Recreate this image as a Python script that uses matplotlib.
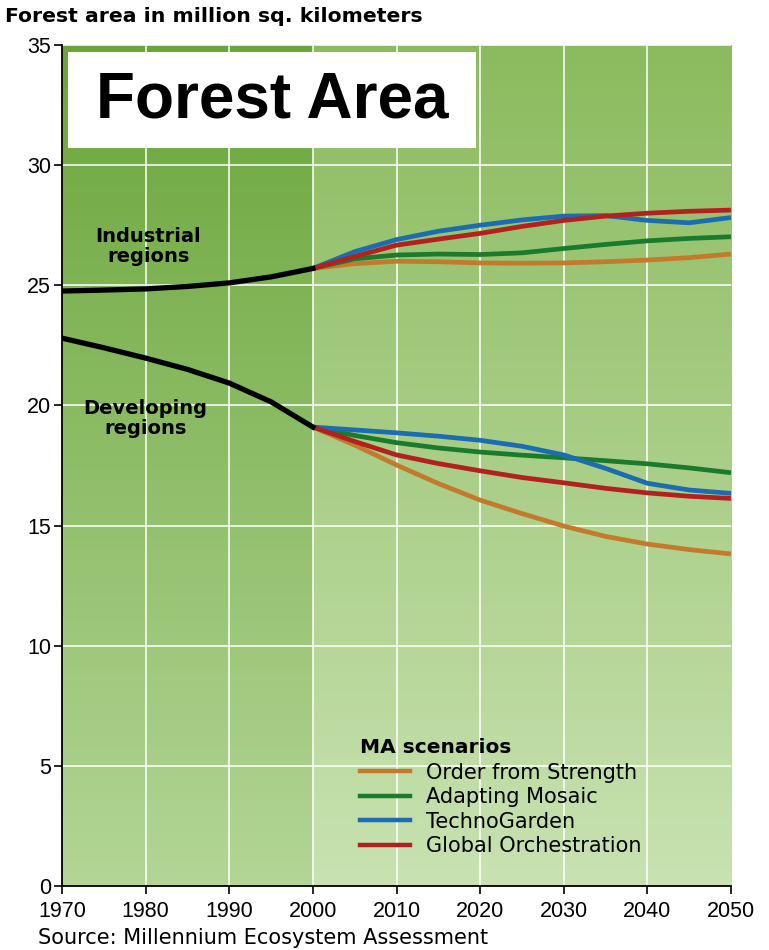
import numpy as np
import matplotlib
matplotlib.use("Agg")
import matplotlib.pyplot as plt
from matplotlib.colors import to_rgb
from matplotlib.lines import Line2D

plt.rcParams['font.family'] = ['Liberation Sans', 'DejaVu Sans']

hist_years = [1970, 1975, 1980, 1985, 1990, 1995, 2000]
industrial_hist = [24.76, 24.80, 24.85, 24.95, 25.10, 25.35, 25.70]
developing_hist = [22.80, 22.40, 21.97, 21.50, 20.93, 20.15, 19.10]

scen_years = [2000, 2005, 2010, 2015, 2020, 2025, 2030, 2035, 2040, 2045, 2050]
scenarios = ["Order from Strength", "Adapting Mosaic", "TechnoGarden", "Global Orchestration"]
colors = ["#c47a2c", "#1a7a2e", "#1b6cb0", "#b3201f"]

industrial_scen = {
    "Order from Strength":  [25.70, 25.90, 26.00, 25.98, 25.93, 25.92, 25.93, 25.98, 26.05, 26.15, 26.30],
    "Adapting Mosaic":      [25.70, 26.10, 26.26, 26.30, 26.28, 26.35, 26.53, 26.70, 26.85, 26.95, 27.02],
    "TechnoGarden":         [25.70, 26.40, 26.90, 27.25, 27.50, 27.72, 27.88, 27.90, 27.70, 27.60, 27.82],
    "Global Orchestration": [25.70, 26.20, 26.67, 26.92, 27.16, 27.45, 27.70, 27.88, 28.00, 28.08, 28.13],
}
developing_scen = {
    "Order from Strength":  [19.10, 18.35, 17.52, 16.75, 16.06, 15.50, 14.98, 14.55, 14.23, 14.00, 13.82],
    "Adapting Mosaic":      [19.10, 18.75, 18.45, 18.23, 18.06, 17.93, 17.82, 17.70, 17.57, 17.40, 17.20],
    "TechnoGarden":         [19.10, 18.98, 18.86, 18.72, 18.55, 18.30, 17.94, 17.38, 16.76, 16.48, 16.34],
    "Global Orchestration": [19.10, 18.50, 17.94, 17.58, 17.28, 17.00, 16.78, 16.55, 16.36, 16.22, 16.13],
}

x_ticks = list(range(1970, 2051, 10))
y_ticks = list(range(0, 36, 5))

fig = plt.figure(figsize=(7.69, 9.5), dpi=100)
ax = fig.add_axes([62/769, 64/950, 669/769, 841/950])

# background gradients
n = 200
t = np.linspace(0, 1, n)[:, None]
def grad(top, bot):
    a = np.array(to_rgb(top)); b = np.array(to_rgb(bot))
    return (a[None, :] * (1 - t) + b[None, :] * t)[:, None, :]
ax.imshow(grad("#6aa63a", "#b3d596"), extent=[1970, 2000, 0, 35], aspect='auto', zorder=0)
ax.imshow(grad("#8bbb5e", "#c8e2b1"), extent=[2000, 2050, 0, 35], aspect='auto', zorder=0)
ax.set_xlim(1970, 2050)
ax.set_ylim(0, 35)

for xv in x_ticks[1:-1]:
    ax.axvline(xv, color="white", lw=1.3, alpha=0.85, zorder=1)
for yv in y_ticks[1:]:
    ax.axhline(yv, color="white", lw=1.3, alpha=0.85, zorder=1)

for name, c in zip(scenarios, colors):
    ax.plot(scen_years, industrial_scen[name], color=c, lw=3.4, zorder=3,
            solid_capstyle='butt', solid_joinstyle='round')
    ax.plot(scen_years, developing_scen[name], color=c, lw=3.4, zorder=3,
            solid_capstyle='butt', solid_joinstyle='round')
ax.plot(hist_years, industrial_hist, color="black", lw=3.8, zorder=4, solid_joinstyle='round')
ax.plot(hist_years, developing_hist, color="black", lw=3.8, zorder=4, solid_joinstyle='round')

for s in ["top", "right"]:
    ax.spines[s].set_visible(False)
for s in ["left", "bottom"]:
    ax.spines[s].set_color("black")
    ax.spines[s].set_linewidth(1.3)
    ax.spines[s].set_zorder(5)

ax.set_xticks(x_ticks)
ax.set_yticks(y_ticks)
ax.tick_params(axis='both', direction='out', length=6, width=1.2, colors='black', labelsize=15.5)
ax.tick_params(axis='x', pad=5)
ax.tick_params(axis='y', pad=2)

# title box
fig.patches.append(plt.Rectangle((68/769, 1 - 148/950), 408/769, 96/950,
                                 transform=fig.transFigure, facecolor="white",
                                 edgecolor="none", zorder=6))
fig.text(272/769, 1 - 101/950, "Forest Area", fontsize=46, fontweight='bold',
         ha='center', va='center', zorder=7)

fig.text(5/769, 1 - 16/950, "Forest area in million sq. kilometers", fontsize=14.7,
         fontweight='bold', ha='left', va='center', family=['DejaVu Sans'])
fig.text(38/769, 1 - 938/950, "Source: Millennium Ecosystem Assessment", fontsize=15,
         ha='left', va='center', family=['DejaVu Sans'])

ax.text(1980.3, 26.6, "Industrial\nregions", fontsize=14, fontweight='bold',
        ha='center', va='center', linespacing=1.05, zorder=6, family=['DejaVu Sans'])
ax.text(1980.0, 19.45, "Developing\nregions", fontsize=14, fontweight='bold',
        ha='center', va='center', linespacing=1.05, zorder=6, family=['DejaVu Sans'])

handles = [Line2D([0], [0], color=c, lw=3.2) for c in colors]
leg = ax.legend(handles, scenarios, title="MA scenarios", loc='upper left',
                bbox_to_anchor=(0.4455, 0.176), frameon=False,
                prop={'family': 'DejaVu Sans', 'size': 15},
                handlelength=2.4, handletextpad=0.75,
                labelspacing=0.22, borderpad=0.0, borderaxespad=0.0)
leg.get_title().set_fontweight('bold')
leg.get_title().set_fontsize(14.5)
leg.get_title().set_family('DejaVu Sans')
leg._legend_box.align = "left"
leg._legend_box.sep = 4

fig.savefig("out.png", dpi=100)
